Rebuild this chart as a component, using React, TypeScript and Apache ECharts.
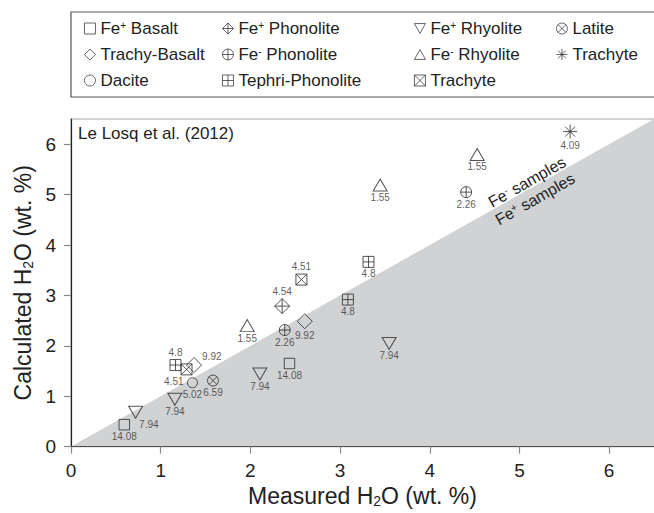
import React, { useEffect, useRef } from "react";
import * as echarts from "echarts";

// ---- Data (measured H2O, calculated H2O, label) ----
const xTicks = [0, 1, 2, 3, 4, 5, 6];
const yTicks = [0, 1, 2, 3, 4, 5, 6];

const feBasalt: [number, number, string][] = [
  [0.594, 0.435, "14.08"],
  [2.436, 1.649, "14.08"],
];
const trachyBasalt: [number, number, string][] = [
  [1.372, 1.618, "9.92"],
  [2.606, 2.487, "9.92"],
];
const dacite: [number, number, string][] = [[1.354, 1.267, "5.02"]];
const fePlusPhonolite: [number, number, string][] = [[2.354, 2.787, "4.54"]];
const feMinusPhonolite: [number, number, string][] = [
  [2.383, 2.312, "2.26"],
  [4.406, 5.049, "2.26"],
];
const tephriPhonolite: [number, number, string][] = [
  [1.165, 1.618, "4.8"],
  [3.087, 2.917, "4.8"],
  [3.317, 3.665, "4.8"],
];
const fePlusRhyolite: [number, number, string][] = [
  [0.72, 0.68, "7.94"],
  [1.158, 0.94, "7.94"],
  [2.106, 1.442, "7.94"],
  [3.547, 2.047, "7.94"],
];
const feMinusRhyolite: [number, number, string][] = [
  [1.965, 2.4, "1.55"],
  [3.447, 5.19, "1.55"],
  [4.528, 5.795, "1.55"],
];
const trachyteBox: [number, number, string][] = [
  [1.288, 1.532, "4.51"],
  [2.569, 3.314, "4.51"],
];
const latite: [number, number, string][] = [[1.583, 1.31, "6.59"]];
const trachyteStar: [number, number, string][] = [[5.565, 6.25, "4.09"]];

// label placement keys per point (b=bottom, t=top, rb=right-below, rt=right-above, lb=left-below)
const feBasaltPlace = ["b", "b"];
const trachyBasaltPlace = ["rt", "b"];
const dacitePlace = ["b"];
const fePlusPhonolitePlace = ["t"];
const feMinusPhonolitePlace = ["b", "b"];
const tephriPlace = ["t", "b", "b"];
const fePlusRhyolitePlace = ["rb", "b", "b", "b"];
const feMinusRhyolitePlace = ["b", "b", "b"];
const trachyteBoxPlace = ["lb", "t"];
const latitePlace = ["b"];
const trachyteStarPlace = ["b"];

const diagonal = [
  [0, 0],
  [6.5, 6.5],
];

const FONT = "'Liberation Sans', Arial, Helvetica, sans-serif";
const INK = "#2a2a2a";

// symbol paths
const SQUARE = "path://M0,0H10V10H0Z";
const DIAMOND = "path://M5,0L10,5L5,10L0,5Z";
const DIAMOND_PLUS = "path://M5,0L10,5L5,10L0,5Z M5,0L5,10 M0,5L10,5";
const CIRCLE_PLUS = "path://M0,5A5,5 0 1,0 10,5A5,5 0 1,0 0,5Z M5,0L5,10 M0,5L10,5";
const SQUARE_PLUS = "path://M0,0H10V10H0Z M5,0L5,10 M0,5L10,5";
const TRI_DOWN = "path://M0,0H10L5,9Z";
const TRI_UP = "path://M5,0L10,9H0Z";
const SQUARE_X = "path://M0,0H10V10H0Z M0,0L10,10 M10,0L0,10";
const CIRCLE_X =
  "path://M0,5A5,5 0 1,0 10,5A5,5 0 1,0 0,5Z M1.46,1.46L8.54,8.54 M8.54,1.46L1.46,8.54";
const STAR =
  "path://M5,0L5,10 M0,5L10,5 M1.46,1.46L8.54,8.54 M8.54,1.46L1.46,8.54 M4.6,5L5.4,5";

function labelFor(place: string, text: string) {
  const base = {
    show: true,
    formatter: text,
    fontSize: 10,
    color: "#333",
    fontFamily: FONT,
  };
  switch (place) {
    case "t":
      return { ...base, position: "top", distance: 2 };
    case "rb":
      return { ...base, position: "right", distance: 0, offset: [-4, 12] };
    case "rt":
      return { ...base, position: "right", distance: 0, offset: [0, -9] };
    case "lb":
      return { ...base, position: "left", distance: 0, offset: [3, 12] };
    default:
      return { ...base, position: "bottom", distance: 1 };
  }
}

function mk(
  name: string,
  symbol: string,
  size: number | number[],
  pts: [number, number, string][],
  places: string[]
) {
  return {
    type: "scatter",
    name,
    symbol,
    symbolSize: size,
    itemStyle: { color: "rgba(0,0,0,0)", borderColor: INK, borderWidth: 1 },
    emphasis: { disabled: true },
    z: 3,
    data: pts.map((p, i) => ({
      value: [p[0], p[1]],
      label: labelFor(places[i], p[2]),
    })),
  };
}

const legendNames: Record<string, string> = {
  "Fe+ Basalt": "{n|Fe}{sup|+}{n| Basalt}",
  "Trachy-Basalt": "{n|Trachy-Basalt}",
  Dacite: "{n|Dacite}",
  "Fe+ Phonolite": "{n|Fe}{sup|+}{n| Phonolite}",
  "Fe- Phonolite": "{n|Fe}{sup|-}{n| Phonolite}",
  "Tephri-Phonolite": "{n|Tephri-Phonolite}",
  "Fe+ Rhyolite": "{n|Fe}{sup|+}{n| Rhyolite}",
  "Fe- Rhyolite": "{n|Fe}{sup|-}{n| Rhyolite}",
  "Trachyte (box)": "{n|Trachyte}",
  Latite: "{n|Latite}",
  "Trachyte (star)": "{n|Trachyte}",
};

const legendRich = {
  n: { fontSize: 17, color: "#222", fontFamily: FONT, lineHeight: 17 },
  sup: { fontSize: 10, color: "#222", fontFamily: FONT, verticalAlign: "top", lineHeight: 10 },
};

function legendCol(left: number, names: string[]) {
  return {
    orient: "vertical",
    left,
    top: 20,
    padding: 0,
    itemWidth: 11,
    itemHeight: 11,
    itemGap: 9,
    selectedMode: false,
    data: names,
    itemStyle: { color: "rgba(0,0,0,0)", borderColor: INK, borderWidth: 0.9 },
    formatter: (n: string) => legendNames[n] || n,
    textStyle: { fontSize: 17, color: "#222", fontFamily: FONT, rich: legendRich },
  };
}

const axisNameRich = {
  t: { fontSize: 23, color: "#222", fontFamily: FONT, lineHeight: 24 },
  s: { fontSize: 14, color: "#222", fontFamily: FONT, verticalAlign: "bottom", lineHeight: 14 },
};

export default function App() {
  const ref = useRef<HTMLDivElement>(null);
  useEffect(() => {
    if (!ref.current) return;
    const chart = echarts.init(ref.current, null, { renderer: "svg" });
    const rot = Math.atan(51.3 / 90);
    const richSamples = {
      a: { fontSize: 16, fill: "#222", fontFamily: FONT, lineHeight: 16 },
      s: { fontSize: 10, fill: "#222", fontFamily: FONT, verticalAlign: "top", lineHeight: 10 },
    };
    chart.setOption({
      animation: false,
      textStyle: { fontFamily: FONT },
      grid: {
        left: 71,
        top: 119,
        width: 585,
        height: 333.3,
        show: true,
        borderColor: "#a8a8a8",
        borderWidth: 1.2,
        backgroundColor: "rgba(0,0,0,0)",
      },
      xAxis: {
        type: "value",
        min: 0,
        max: 6.5,
        interval: 1,
        splitLine: { show: false },
        axisLine: { lineStyle: { color: "#222", width: 1.2 } },
        axisTick: { customValues: xTicks, length: 7, lineStyle: { color: "#8a8a8a", width: 1.2 } },
        axisLabel: { customValues: xTicks, fontSize: 19, color: "#222", margin: 14, fontFamily: FONT },
        name: "{t|Measured H}{s|2}{t|O (wt. %)}",
        nameLocation: "middle",
        nameGap: 33,
        nameTextStyle: { rich: axisNameRich },
      },
      yAxis: {
        type: "value",
        min: 0,
        max: 6.5,
        interval: 1,
        splitLine: { show: false },
        axisLine: { lineStyle: { color: "#222", width: 1.2 } },
        axisTick: { customValues: yTicks, length: 7, lineStyle: { color: "#8a8a8a", width: 1.2 } },
        axisLabel: { customValues: yTicks, fontSize: 19, color: "#222", margin: 15, fontFamily: FONT },
        name: "{t|Calculated H}{s|2}{t|O (wt. %)}",
        nameLocation: "middle",
        nameGap: 34,
        nameTextStyle: { rich: axisNameRich },
      },
      legend: [
        legendCol(84, ["Fe+ Basalt", "Trachy-Basalt", "Dacite"]),
        legendCol(222, ["Fe+ Phonolite", "Fe- Phonolite", "Tephri-Phonolite"]),
        legendCol(414, ["Fe+ Rhyolite", "Fe- Rhyolite", "Trachyte (box)"]),
        legendCol(556, ["Latite", "Trachyte (star)"]),
      ],
      graphic: [
        {
          type: "rect",
          shape: { x: 71, y: 12, width: 640, height: 85 },
          style: { fill: "none", stroke: "#555", lineWidth: 1.2 },
          silent: true,
        },
        {
          type: "text",
          x: 78,
          y: 133,
          style: {
            text: "Le Losq et al. (2012)",
            fontSize: 17,
            fill: "#222",
            fontFamily: FONT,
            verticalAlign: "middle",
          },
          silent: true,
        },
        {
          type: "text",
          x: 527,
          y: 182,
          rotation: rot,
          style: {
            text: "{a|Fe}{s|-}{a| samples}",
            rich: richSamples,
            align: "center",
            verticalAlign: "middle",
          },
          z: 10,
          silent: true,
        },
        {
          type: "text",
          x: 535,
          y: 199,
          rotation: rot,
          style: {
            text: "{a|Fe}{s|+}{a| samples}",
            rich: richSamples,
            align: "center",
            verticalAlign: "middle",
          },
          z: 10,
          silent: true,
        },
      ],
      series: [
        {
          type: "line",
          name: "_diag",
          data: diagonal,
          symbol: "none",
          lineStyle: { width: 0 },
          areaStyle: { color: "#d1d2d4", opacity: 1, origin: "start" },
          silent: true,
          z: 1,
        },
        mk("Fe+ Basalt", SQUARE, 10.5, feBasalt, feBasaltPlace),
        mk("Trachy-Basalt", DIAMOND, 15, trachyBasalt, trachyBasaltPlace),
        mk("Dacite", "circle", 10, dacite, dacitePlace),
        mk("Fe+ Phonolite", DIAMOND_PLUS, 15, fePlusPhonolite, fePlusPhonolitePlace),
        mk("Fe- Phonolite", CIRCLE_PLUS, 11, feMinusPhonolite, feMinusPhonolitePlace),
        mk("Tephri-Phonolite", SQUARE_PLUS, 11, tephriPhonolite, tephriPlace),
        mk("Fe+ Rhyolite", TRI_DOWN, [14, 12], fePlusRhyolite, fePlusRhyolitePlace),
        mk("Fe- Rhyolite", TRI_UP, [14, 12], feMinusRhyolite, feMinusRhyolitePlace),
        mk("Trachyte (box)", SQUARE_X, 11, trachyteBox, trachyteBoxPlace),
        mk("Latite", CIRCLE_X, 11, latite, latitePlace),
        mk("Trachyte (star)", STAR, 14, trachyteStar, trachyteStarPlace),
      ],
    });
    return () => chart.dispose();
  }, []);
  return (
    <div
      ref={ref}
      style={{ position: "fixed", left: 0, top: 0, width: 654, height: 513, background: "#fff" }}
    />
  );
}
